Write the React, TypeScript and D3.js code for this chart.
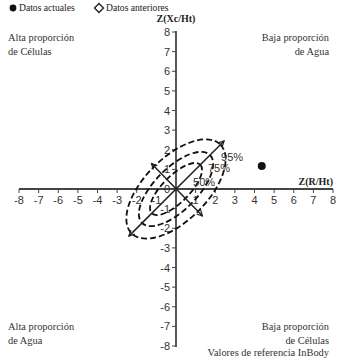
import React from "react";
import * as d3 from "d3";

// tick values of both axes
const xTicks = [-8, -7, -6, -5, -4, -3, -2, -1, 1, 2, 3, 4, 5, 6, 7, 8];
const yTicks = [8, 7, 6, 5, 4, 3, 2, 1, 0, -1, -2, -3, -4, -5, -6, -7, -8];

// reference ellipses: label, semi-major, semi-minor (along the 45° diagonal)
const ellipseLabels = ["95%", "75%", "50%"];
const ellipseMajor = [3.2, 2.45, 1.75];
const ellipseMinor = [1.6, 1.08, 0.68];
const labelX = [2.86, 2.19, 1.43];
const labelY = [1.63, 1.07, 0.36];

// arrows of the reference vectors
const arrowFrom = [[-2.4, -2.4], [-1.25, 1.3]];
const arrowTo = [[2.45, 2.45], [1.35, -1.38]];

// current measurement
const currentX = [4.37];
const currentY = [1.17];

export default function App() {
  const W = 337;
  const H = 359;
  const x = d3.scaleLinear().domain([-8, 8]).range([19, 333]);
  const y = d3.scaleLinear().domain([-8, 8]).range([346, 32]);
  const ux = x(1) - x(0);
  const uy = y(0) - y(1);
  const serif = "'Liberation Serif', 'DejaVu Serif', serif";
  const sans = "'Liberation Sans', Arial, sans-serif";
  const axisCol = "#444";

  return (
    <div style={{ position: "fixed", left: 0, top: 0 }}>
      <svg width={W} height={H} style={{ display: "block", background: "#fff" }}>
        <defs>
          <marker id="ah" viewBox="0 0 10 10" refX="9" refY="5" markerWidth="7" markerHeight="7" orient="auto-start-reverse" markerUnits="userSpaceOnUse">
            <path d="M1,1 L9,5 L1,9" fill="none" stroke="#222" strokeWidth="1.8" />
          </marker>
        </defs>

        {/* legend */}
        <circle cx={13} cy={8} r={3.4} fill="#111" />
        <text x={19} y={11} fontFamily={serif} fontSize={9.6} fill="#222">Datos actuales</text>
        <path d={`M99,3.5 L103.5,8 L99,12.5 L94.5,8 Z`} fill="none" stroke="#222" strokeWidth={1.4} />
        <text x={106} y={11} fontFamily={serif} fontSize={9.6} fill="#222">Datos anteriores</text>

        {/* quadrant notes */}
        <g fontFamily={serif} fontSize={10.4} fill="#333">
          <text x={8} y={41}>Alta proporción</text>
          <text x={8} y={55}>de Células</text>
          <text x={329} y={41} textAnchor="end">Baja proporción</text>
          <text x={329} y={55} textAnchor="end">de Agua</text>
          <text x={8} y={330}>Alta proporción</text>
          <text x={8} y={344}>de Agua</text>
          <text x={329} y={330} textAnchor="end">Baja proporción</text>
          <text x={329} y={344} textAnchor="end">de Células</text>
          <text x={329} y={356} textAnchor="end">Valores de referencia InBody</text>
        </g>

        {/* axis titles */}
        <text x={x(0)} y={22} textAnchor="middle" fontFamily={serif} fontWeight="bold" fontSize={10} fill="#222">Z(Xc/Ht)</text>
        <text x={333} y={y(0) - 4} textAnchor="end" fontFamily={serif} fontWeight="bold" fontSize={10} fill="#222">Z(R/Ht)</text>

        {/* x axis */}
        <line x1={x(-8)} x2={x(8)} y1={y(0)} y2={y(0)} stroke={axisCol} strokeWidth={1.8} />
        {xTicks.map((t) => (
          <g key={"xt" + t}>
            <line x1={x(t)} x2={x(t)} y1={y(0)} y2={y(0) + 4} stroke={axisCol} strokeWidth={1} />
            <text x={x(t)} y={y(0) + 15} textAnchor="middle" fontFamily={sans} fontSize={11} fill="#333">{t}</text>
          </g>
        ))}

        {/* y axis */}
        <line x1={x(0)} x2={x(0)} y1={y(8) - 1} y2={y(-8) + 1} stroke={axisCol} strokeWidth={1.8} />
        {yTicks.map((t) => (
          <g key={"yt" + t}>
            <line x1={x(0) - 4} x2={x(0)} y1={y(t)} y2={y(t)} stroke={axisCol} strokeWidth={1} />
            <text x={x(0) - 6} y={y(t) + 4} textAnchor="end" fontFamily={sans} fontSize={11} fill="#333">{t}</text>
          </g>
        ))}

        {/* reference ellipses */}
        {ellipseMajor.map((a, i) => (
          <ellipse
            key={"el" + i}
            cx={x(0)}
            cy={y(0)}
            rx={a * ux}
            ry={ellipseMinor[i] * uy}
            transform={`rotate(-45, ${x(0)}, ${y(0)})`}
            fill="none"
            stroke="#111"
            strokeWidth={1.8}
            strokeDasharray="6,3"
          />
        ))}

        {/* vectors */}
        {arrowFrom.map((p, i) => (
          <line
            key={"ar" + i}
            x1={x(p[0])}
            y1={y(p[1])}
            x2={x(arrowTo[i][0])}
            y2={y(arrowTo[i][1])}
            stroke="#222"
            strokeWidth={1.5}
            markerStart="url(#ah)"
            markerEnd="url(#ah)"
          />
        ))}

        {/* percentage labels */}
        {ellipseLabels.map((l, i) => (
          <text key={l} x={x(labelX[i])} y={y(labelY[i]) + 4} textAnchor="middle" fontFamily={sans} fontSize={11} fill="#333">{l}</text>
        ))}

        {/* current data */}
        {currentX.map((v, i) => (
          <circle key={"c" + i} cx={x(v)} cy={y(currentY[i])} r={4} fill="#111" />
        ))}
      </svg>
    </div>
  );
}
